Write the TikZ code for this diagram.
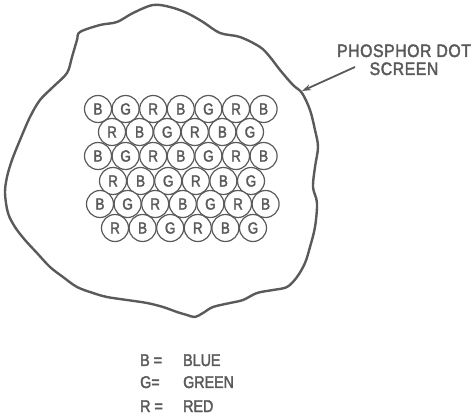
\documentclass[tikz,border=0pt]{standalone}
\usepackage{fontspec}
\setmainfont{Liberation Sans}
\newfontfamily\lettering[FakeStretch=0.84,FakeBold=2.2]{Liberation Sans}
\newfontfamily\tagfont[FakeStretch=0.88,FakeBold=2.2,LetterSpace=3]{Liberation Sans}
\usetikzlibrary{arrows.meta}
\definecolor{Ink}{HTML}{5A5A5A}
\tikzset{
  outline/.style={draw=Ink, line width=2.4pt, line join=round},
  dot/.style={
    circle, draw=Ink, line width=1.2pt, text=Ink, fill=white,
    minimum size=27pt, inner sep=0pt, font=\lettering\fontsize{16}{16}\selectfont
  },
  label/.style={text=Ink, inner sep=0pt, font=\lettering\fontsize{17}{18}\selectfont},
  pointer/.style={-{Stealth[length=9pt,width=6pt]}, line width=1.8pt, draw=Ink}
}

\begin{document}
\begin{tikzpicture}[x=1pt,y=-1pt]
    \useasboundingbox (0,0) rectangle (475,420);

    % screen outline
    \draw[outline] plot[smooth cycle, tension=0.55] coordinates {
      (80,32) (100,25) (117,22) (133,13) (153,5) (170,7) (187,13) (203,22)
      (220,33) (240,37) (260,47) (270,57) (280,70) (293,85) (302,93)
      (310,110) (315,130) (318,147) (315,167) (313,187) (317,203) (315,227)
      (310,247) (305,263) (297,277) (287,287) (273,290) (257,293) (243,300)
      (230,303) (213,307) (203,313) (195,317) (187,315) (177,312) (163,307)
      (147,303) (127,300) (107,297) (93,293) (77,287) (63,277) (50,267)
      (37,253) (25,240) (15,227) (8,213) (5,193) (7,177) (12,160) (20,140)
      (30,117) (40,100) (53,87) (67,73) (72,57) (77,40)};

    % phosphor dots
    \foreach \y/\x/\seq [count=\r] in {109/98/{B,G,R,B,G,R,B}, 132/112/{R,B,G,R,B,G},
        156/98/{B,G,R,B,G,R,B}, 181/113/{R,B,G,R,B,G},
        204/100/{B,G,R,B,G,R,B}, 228/115/{R,B,G,R,B,G}}
      \foreach \c [count=\i] in \seq
        \node[dot] (dot-\r-\i) at ({\x+27.6*(\i-1)},\y) {\c};

    % label and pointer
    \node[label, align=center, anchor=base, font=\tagfont\fontsize{18}{18}\selectfont]
      (screen) at (404,75) {PHOSPHOR DOT\\SCREEN};
    \coordinate (tail) at (355,67);
    \coordinate (tip) at (302,91);
    \draw[pointer] (tail) -- (tip);

    % key
    \node[label, anchor=base west] (keyB) at (140,366) {B =};
    \node[label, anchor=base west] (nameB) at (183,366) {BLUE};
    \node[label, anchor=base west] (keyG) at (140,388) {G=};
    \node[label, anchor=base west] (nameG) at (183,388) {GREEN};
    \node[label, anchor=base west] (keyR) at (140,412) {R =};
    \node[label, anchor=base west] (nameR) at (183,412) {RED};
\end{tikzpicture}
\end{document}
